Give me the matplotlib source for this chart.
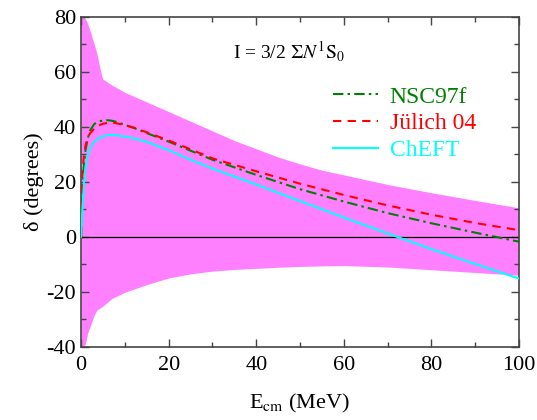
import matplotlib
matplotlib.use('Agg')
import matplotlib.pyplot as plt
import numpy as np
from matplotlib.ticker import MultipleLocator

SERIF = 'Liberation Serif'
plt.rcParams['font.family'] = 'serif'
plt.rcParams['font.serif'] = [SERIF, 'DejaVu Serif']
plt.rcParams['mathtext.fontset'] = 'stix'

# uncertainty band (E in MeV, phase shift in degrees)
band_E = [0, 0.5, 1, 1.5, 2, 3, 3.6, 4.7, 5, 7, 10, 15, 20, 25, 30, 35, 40, 45,
          50, 55, 60, 70, 80, 90, 100]
band_hi = [84, 80, 79.4, 77.5, 75.2, 70, 66.7, 58.5, 57.3, 55.2, 52.5, 49, 45.5,
           42, 38.5, 35, 32, 29, 26.5, 24.2, 22.5, 19, 16, 13.2, 10.5]
band_lo = [-40, -40, -39, -35, -33, -28.5, -26.7, -25.5, -25.2, -22.5, -20.2,
           -17.4, -15, -13.5, -12.5, -11.9, -11.5, -11.1, -10.8, -10.6, -10.5,
           -11, -12, -13, -14]

# model phase shifts
E = [0, 0.3, 0.6, 1, 1.5, 2, 3, 4, 5, 6, 7, 8, 10, 12, 15, 20, 25, 30, 40, 50,
     60, 70, 80, 90, 100]
nsc97f = [0, 15, 25, 31.5, 35.5, 38.5, 41, 41.9, 42.3, 42.4, 42.2, 41.8, 40.7,
          39.6, 37.7, 34.6, 31.3, 28, 22.5, 17.3, 12.8, 8.6, 4.9, 1.5, -1.8]
julich04 = [0, 22, 29, 33, 36, 37.5, 39.3, 40.5, 41.1, 41.4, 41.5, 41.3, 40.6,
            39.7, 38, 35, 31.8, 28.5, 23.8, 19.3, 15.2, 11.4, 8, 5, 2.4]
cheft = [0, 10, 18, 25.5, 29.5, 32.2, 34.5, 35.8, 36.5, 36.9, 37, 36.9, 36.5,
         35.8, 34.5, 31.5, 28, 24.8, 19, 13, 7, 1.2, -4.5, -9.9, -15.2]

xticks = [0, 20, 40, 60, 80, 100]
yticks = [-40, -20, 0, 20, 40, 60, 80]

fig = plt.figure(figsize=(5.37, 4.2), dpi=100)
ax = fig.add_axes([0.151, 0.1745, 0.8155, 0.7855])

ax.fill_between(band_E, band_lo, band_hi, color='#ff80ff', lw=0, zorder=1)
ax.axhline(0, color='black', lw=0.9, zorder=2)

ax.plot(E, nsc97f, color='#008000', lw=1.5, dashes=(5, 2, 1.2, 2),
        label='NSC97f', zorder=3)
ax.plot(E, julich04, color='red', lw=1.5, dashes=(4, 3),
        label='Jülich 04', zorder=3)
ax.plot(E, cheft, color='cyan', lw=1.5, label='ChEFT', zorder=3)

ax.set_xlim(0, 100)
ax.set_ylim(-40, 80)
ax.set_xticks(xticks, [str(v) for v in xticks], fontname=SERIF, fontsize=16)
ax.set_yticks(yticks, [str(v) for v in yticks], fontname=SERIF, fontsize=16)
ax.xaxis.set_minor_locator(MultipleLocator(10))
ax.yaxis.set_minor_locator(MultipleLocator(10))
ax.tick_params(which='both', direction='in', top=True, right=True,
               color='#444444')
ax.tick_params(which='major', length=6, width=1)
ax.tick_params(which='minor', length=3.5, width=1)
ax.tick_params(axis='x', pad=7)
for s in ax.spines.values():
    s.set_color('#444444')
    s.set_linewidth(1.2)

ax.set_xlabel(r'E$_{\rm cm}$ (MeV)', fontsize=16, labelpad=12)
ax.set_ylabel('δ (degrees)', fontsize=16, labelpad=2, fontname=SERIF)

ax.text(0.475, 0.893, r'I = 3/2 $\Sigma N\,^{1}\mathrm{S}_0$', transform=ax.transAxes,
        ha='center', va='center', fontsize=14)

leg = ax.legend(loc='upper left', bbox_to_anchor=(0.575, 0.79), frameon=False,
                fontsize=17, handlelength=1.9, handletextpad=0.5,
                labelspacing=0.22, borderaxespad=0, borderpad=0)
for txt, ln in zip(leg.get_texts(), leg.get_lines()):
    txt.set_color(ln.get_color())

fig.savefig('out.png', dpi=100)
